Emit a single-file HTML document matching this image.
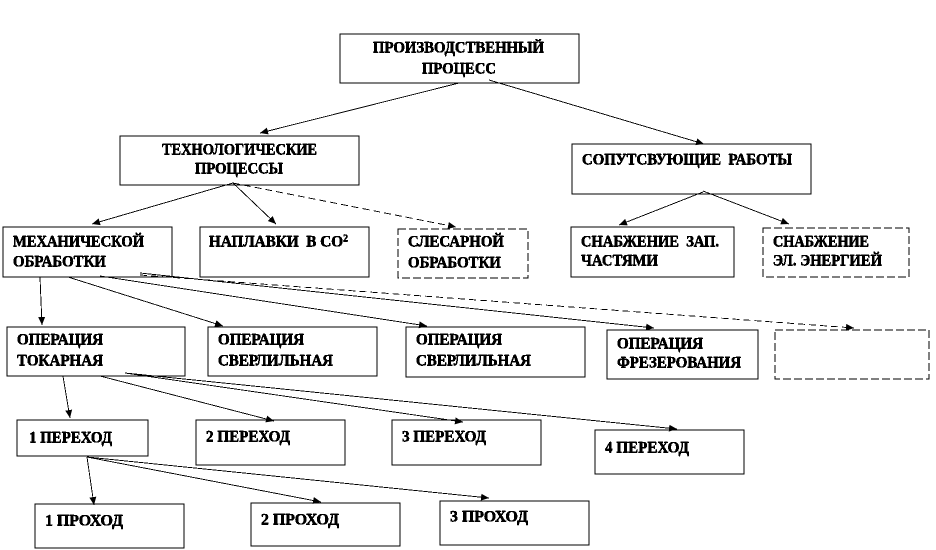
<!DOCTYPE html>
<html lang="ru"><head><meta charset="utf-8"><title>Производственный процесс</title>
<style>
html,body{margin:0;padding:0;background:#fff}
svg{display:block}
text{font-family:"Liberation Serif","Noto Serif CJK SC",serif;font-weight:bold;font-size:15.5px;fill:#000;stroke:#000;stroke-width:.35;white-space:pre}
.b{fill:#fff;stroke:#000;stroke-width:1.4;shape-rendering:crispEdges}
.d{stroke-dasharray:8 3;stroke-width:1}
.l{stroke:#000;stroke-width:.9;fill:none;shape-rendering:crispEdges;marker-end:url(#a)}
.ld{stroke-dasharray:7 4}
</style></head><body>
<svg width="936" height="550" viewBox="0 0 936 550" xmlns="http://www.w3.org/2000/svg">
<defs>
<marker id="a" markerUnits="userSpaceOnUse" markerWidth="11" markerHeight="9" refX="8" refY="4" orient="auto"><path d="M0 0.5L8 4L0 7.5Z" fill="#000"/></marker>
<filter id="t" x="0" y="0" width="100%" height="100%" filterUnits="userSpaceOnUse" primitiveUnits="userSpaceOnUse"><feComponentTransfer><feFuncA type="discrete" tableValues="0 1 1 1"/></feComponentTransfer></filter>
</defs>
<rect class="b" x="340" y="34" width="239" height="49"/>
<rect class="b" x="120" y="136" width="239" height="49"/>
<rect class="b" x="572" y="144" width="239" height="50"/>
<rect class="b" x="3" y="227" width="169" height="50"/>
<rect class="b" x="200" y="227" width="169" height="50"/>
<rect class="b d" x="398" y="229" width="130" height="49"/>
<rect class="b" x="571" y="227" width="163" height="50"/>
<rect class="b d" x="763" y="228" width="146" height="49"/>
<rect class="b" x="7" y="327" width="178" height="49"/>
<rect class="b" x="208" y="327" width="169" height="49"/>
<rect class="b" x="406" y="327" width="179" height="50"/>
<rect class="b" x="607" y="330" width="151" height="49"/>
<rect class="b d" x="775" y="330" width="154" height="49"/>
<rect class="b" x="17" y="420" width="131" height="36"/>
<rect class="b" x="196" y="420" width="149" height="45"/>
<rect class="b" x="392" y="420" width="149" height="45"/>
<rect class="b" x="595" y="430" width="149" height="44"/>
<rect class="b" x="35" y="504" width="149" height="44"/>
<rect class="b" x="251" y="503" width="149" height="43"/>
<rect class="b" x="440" y="501" width="149" height="44"/>
<g>
<line class="l" x1="459" y1="83" x2="260" y2="133"/>
<line class="l" x1="489" y1="80" x2="704" y2="144"/>
<line class="l" x1="233" y1="183" x2="92" y2="224"/>
<line class="l" x1="233" y1="183" x2="276" y2="224"/>
<line class="l ld" x1="233" y1="183" x2="456" y2="227"/>
<line class="l" x1="703" y1="192" x2="619" y2="225"/>
<line class="l" x1="703" y1="191" x2="789" y2="224"/>
<line class="l" x1="40" y1="277" x2="42" y2="325"/>
<line class="l" x1="68" y1="277" x2="223" y2="326"/>
<line class="l" x1="100" y1="276" x2="427" y2="326"/>
<line class="l" x1="140" y1="273" x2="654" y2="328"/>
<line class="l ld" x1="140" y1="275" x2="854" y2="328"/>
<line class="l" x1="63" y1="376" x2="70" y2="418"/>
<line class="l" x1="100" y1="376" x2="274" y2="421"/>
<line class="l" x1="125" y1="373" x2="463" y2="422"/>
<line class="l" x1="125" y1="373" x2="677" y2="429"/>
<line class="l" x1="87" y1="457" x2="94" y2="505"/>
<line class="l" x1="87" y1="457" x2="321" y2="502"/>
<line class="l" x1="87" y1="457" x2="489" y2="498"/>
</g>
<g filter="url(#t)">
<text x="373" y="52.5" textLength="171" lengthAdjust="spacingAndGlyphs">ПРОИЗВОДСТВЕННЫЙ</text>
<text x="422" y="73.5" textLength="74" lengthAdjust="spacingAndGlyphs">ПРОЦЕСС</text>
<text x="162" y="154.5" textLength="155" lengthAdjust="spacingAndGlyphs">ТЕХНОЛОГИЧЕСКИЕ</text>
<text x="195" y="173.5" textLength="88" lengthAdjust="spacingAndGlyphs">ПРОЦЕССЫ</text>
<text x="582" y="164.5" textLength="210" lengthAdjust="spacingAndGlyphs">СОПУТСВУЮЩИЕ  РАБОТЫ</text>
<text x="13" y="246.5" textLength="131" lengthAdjust="spacingAndGlyphs">МЕХАНИЧЕСКОЙ</text>
<text x="13" y="266.5" textLength="93" lengthAdjust="spacingAndGlyphs">ОБРАБОТКИ</text>
<text x="209" y="246.5" textLength="139" lengthAdjust="spacingAndGlyphs">НАПЛАВКИ  В СО<tspan dy="-5" font-size="10">2</tspan></text>
<text x="408" y="246.5" textLength="96" lengthAdjust="spacingAndGlyphs">СЛЕСАРНОЙ</text>
<text x="408" y="267.5" textLength="93" lengthAdjust="spacingAndGlyphs">ОБРАБОТКИ</text>
<text x="581" y="246.5" textLength="138" lengthAdjust="spacingAndGlyphs">СНАБЖЕНИЕ  ЗАП.</text>
<text x="581" y="265.5" textLength="77" lengthAdjust="spacingAndGlyphs">ЧАСТЯМИ</text>
<text x="773" y="246.5" textLength="96" lengthAdjust="spacingAndGlyphs">СНАБЖЕНИЕ</text>
<text x="773" y="265.5" textLength="109" lengthAdjust="spacingAndGlyphs">ЭЛ. ЭНЕРГИЕЙ</text>
<text x="17" y="344.5" textLength="86" lengthAdjust="spacingAndGlyphs">ОПЕРАЦИЯ</text>
<text x="17" y="365.5" textLength="86" lengthAdjust="spacingAndGlyphs">ТОКАРНАЯ</text>
<text x="218" y="344.5" textLength="86" lengthAdjust="spacingAndGlyphs">ОПЕРАЦИЯ</text>
<text x="218" y="365.5" textLength="115" lengthAdjust="spacingAndGlyphs">СВЕРЛИЛЬНАЯ</text>
<text x="416" y="344.5" textLength="86" lengthAdjust="spacingAndGlyphs">ОПЕРАЦИЯ</text>
<text x="416" y="365.5" textLength="115" lengthAdjust="spacingAndGlyphs">СВЕРЛИЛЬНАЯ</text>
<text x="617" y="348.5" textLength="86" lengthAdjust="spacingAndGlyphs">ОПЕРАЦИЯ</text>
<text x="617" y="367.5" textLength="124" lengthAdjust="spacingAndGlyphs">ФРЕЗЕРОВАНИЯ</text>
<text x="29" y="442.5" textLength="83" lengthAdjust="spacingAndGlyphs">1 ПЕРЕХОД</text>
<text x="206" y="441.5" textLength="84" lengthAdjust="spacingAndGlyphs">2 ПЕРЕХОД</text>
<text x="402" y="441.5" textLength="84" lengthAdjust="spacingAndGlyphs">3 ПЕРЕХОД</text>
<text x="605" y="452.5" textLength="84" lengthAdjust="spacingAndGlyphs">4 ПЕРЕХОД</text>
<text x="45" y="525.5" textLength="78" lengthAdjust="spacingAndGlyphs">1 ПРОХОД</text>
<text x="261" y="524.5" textLength="78" lengthAdjust="spacingAndGlyphs">2 ПРОХОД</text>
<text x="450" y="521.5" textLength="78" lengthAdjust="spacingAndGlyphs">3 ПРОХОД</text>
</g>
</svg>
</body></html>
